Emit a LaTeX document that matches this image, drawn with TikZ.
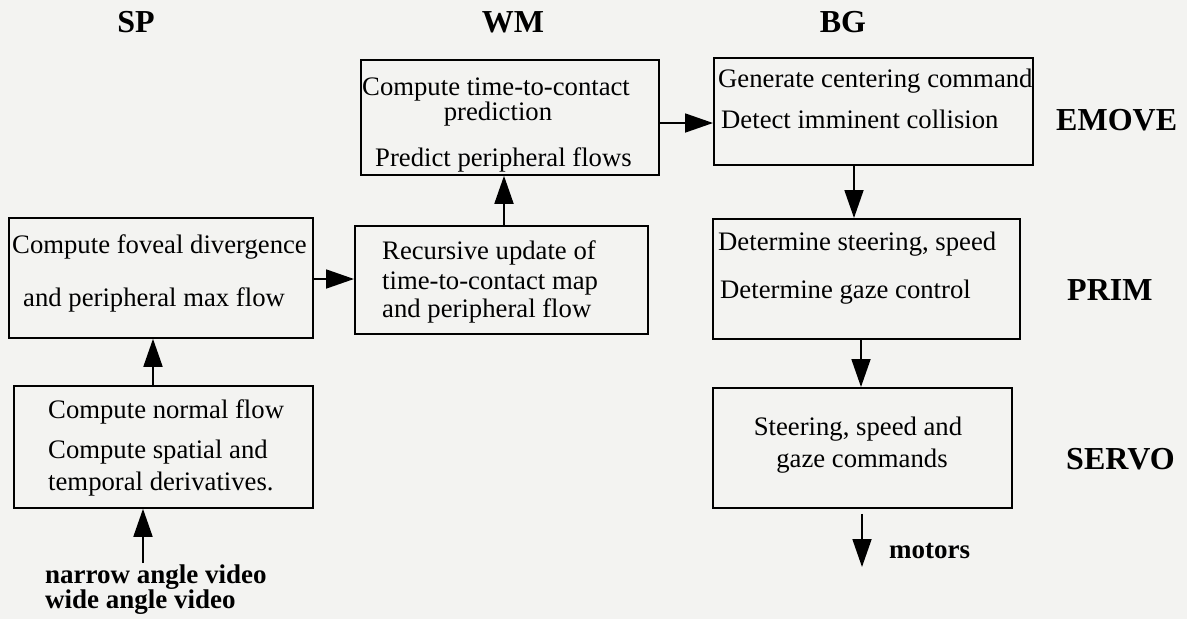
\documentclass[tikz,border=0pt]{standalone}
\usepackage{fontspec}
\setmainfont{Liberation Serif}
\usetikzlibrary{arrows.meta}
\definecolor{bgc}{RGB}{243,243,241}
\begin{document}
\begin{tikzpicture}[x=1pt,y=-1pt,
  box/.style={draw, line width=1.8pt, inner sep=0pt, anchor=north west},
  txt/.style={anchor=base west, inner sep=0pt, font=\fontsize{26.7}{32}\selectfont},
  ctxt/.style={anchor=base, inner sep=0pt, font=\fontsize{26.7}{32}\selectfont},
  ttl/.style={anchor=base, inner sep=0pt, font=\fontsize{32}{38}\selectfont\bfseries},
  lvl/.style={anchor=base west, inner sep=0pt, font=\fontsize{32}{38}\selectfont\bfseries},
  lab/.style={anchor=base west, inner sep=0pt, font=\fontsize{27}{32}\selectfont\bfseries},
  arr/.style={line width=1.8pt, -{Triangle[length=28pt,width=19pt]}}]
\useasboundingbox[fill=bgc] (0,0) rectangle (1187,619);

% column titles
\node[ttl] (tsp) at (136,32) {SP};
\node[ttl] (twm) at (513,32) {WM};
\node[ttl] (tbg) at (843,32) {BG};
% level labels
\node[lvl] (lemove) at (1056,130) {EMOVE};
\node[lvl] (lprim) at (1067,300) {PRIM};
\node[lvl] (lservo) at (1066,469) {SERVO};

% boxes
\node[box, minimum width=304pt, minimum height=120pt] (sp1) at (8,217) {};
\node[box, minimum width=299pt, minimum height=122pt] (sp2) at (13,385) {};
\node[box, minimum width=298pt, minimum height=115pt] (wm1) at (360,59) {};
\node[box, minimum width=293pt, minimum height=108pt] (wm2) at (354,225) {};
\node[box, minimum width=319pt, minimum height=107pt] (bg1) at (713,57) {};
\node[box, minimum width=307pt, minimum height=120pt] (bg2) at (712,218) {};
\node[box, minimum width=299pt, minimum height=120pt] (bg3) at (712,387) {};

% texts
\node[txt] (sp1a) at (12,253) {Compute foveal divergence};
\node[txt] (sp1b) at (23,306) {and peripheral max flow};
\node[txt] (sp2a) at (48,418) {Compute normal flow};
\node[txt] (sp2b) at (48,458) {Compute spatial and};
\node[txt] (sp2c) at (48,490) {temporal derivatives.};
\node[txt] (wm1a) at (362,95) {Compute time-to-contact};
\node[ctxt] (wm1b) at (498,120) {prediction};
\node[txt] (wm1c) at (375,166) {Predict peripheral flows};
\node[txt] (wm2a) at (382,259) {Recursive update of};
\node[txt] (wm2b) at (382,289) {time-to-contact map};
\node[txt] (wm2c) at (382,317) {and peripheral flow};
\node[txt] (bg1a) at (718,87) {Generate centering command};
\node[txt] (bg1b) at (721,128) {Detect imminent collision};
\node[txt] (bg2a) at (718,250) {Determine steering, speed};
\node[txt] (bg2b) at (720,298) {Determine gaze control};
\node[ctxt] (bg3a) at (858,435) {Steering, speed and};
\node[ctxt] (bg3b) at (862,467) {gaze commands};

% inputs / outputs
\node[lab] (vid1) at (45,583) {narrow angle video};
\node[lab] (vid2) at (45,608) {wide angle video};
\node[lab] (mot) at (889,558) {motors};
\coordinate (vin) at (143,563);
\coordinate (mout) at (862,567);

% connectors
\draw[arr] (vin) -- (vin |- sp2.south);
\draw[arr] (sp2.north -| 153,0) -- (sp1.south -| 153,0);
\draw[arr] (sp1.east |- 0,279) -- (wm2.west |- 0,279);
\draw[arr] (wm2.north -| 504,0) -- (wm1.south -| 504,0);
\draw[arr] (wm1.east |- 0,123) -- (bg1.west |- 0,123);
\draw[arr] (bg1.south -| 854,0) -- (bg2.north -| 854,0);
\draw[arr] (bg2.south -| 861,0) -- (bg3.north -| 861,0);
\draw[arr] ([yshift=-5pt]bg3.south -| mout) -- (mout);
\end{tikzpicture}
\end{document}
